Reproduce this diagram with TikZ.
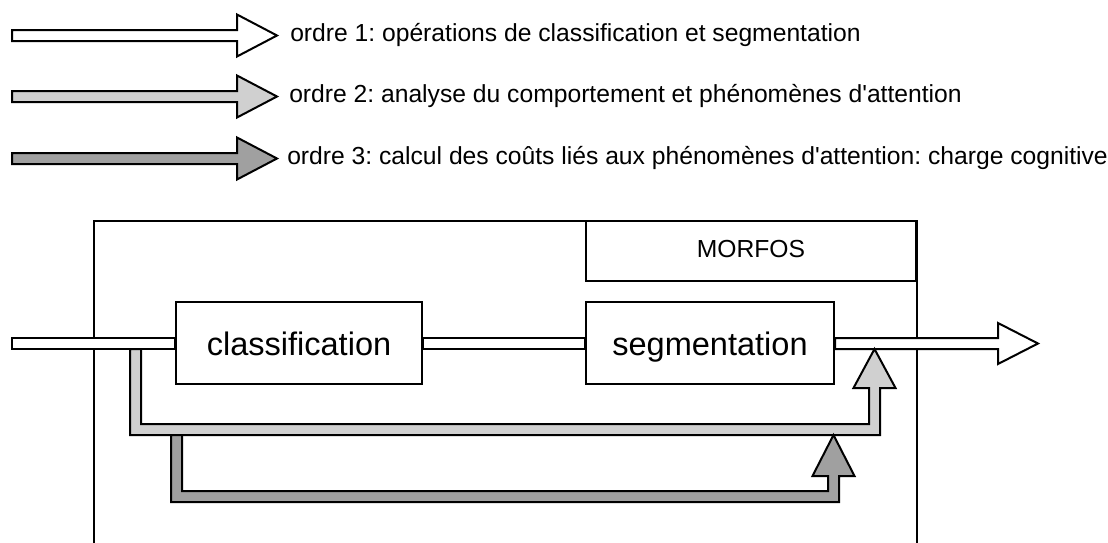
\documentclass[tikz,border=0pt]{standalone}
\usepackage{fontspec}
\setmainfont{Liberation Sans}
\usetikzlibrary{calc}
\definecolor{lightg}{HTML}{D0D0D0}
\definecolor{darkg}{HTML}{A0A0A0}
\begin{document}
\frenchspacing
\begin{tikzpicture}[x=0.75pt,y=-0.75pt,
  outline/.style={draw=black, line width=1.5pt, line join=miter},
  box/.style={outline, fill=white, inner sep=0pt},
  bigtext/.style={font=\fontsize{24.4}{28}\selectfont, text height=22.5pt, text depth=4.5pt},
  smalltext/.style={font=\fontsize{18.5}{22}\selectfont},
  legtext/.style={anchor=base west, inner sep=0pt, smalltext}]
\useasboundingbox (0,0) rectangle (1108,543);
\clip (0,0) rectangle (1108,543);

% legend
\draw[outline, fill=white] (12,30) -- (237,30) -- (237,14.5) -- (277,35.5) -- (237,56.5) -- (237,41) -- (12,41) -- cycle;
\node[legtext] (t1) at (290,41.5) {ordre 1: opérations de classification et segmentation};
\draw[outline, fill=lightg] (12,91) -- (237,91) -- (237,75.5) -- (277,96.5) -- (237,117.5) -- (237,102) -- (12,102) -- cycle;
\node[legtext] (t2) at (289,102.5) {ordre 2: analyse du comportement et phénomènes d\textquotesingle attention};
\draw[outline, fill=darkg] (12,153) -- (237,153) -- (237,137.5) -- (277,158.5) -- (237,179.5) -- (237,164) -- (12,164) -- cycle;
\node[legtext] (t3) at (287,164.5) {ordre 3: calcul des coûts liés aux phénomènes d\textquotesingle attention: charge cognitive};

% main frame
\node[box, minimum width=617.25pt, minimum height=300pt, anchor=north west] (main) at (93,220) {};
\node[box, smalltext, text height=16.7pt, text depth=7.25pt, minimum width=247.5pt, minimum height=45pt] (morfos) at (751,251) {MORFOS};

% processing boxes
\node[box, bigtext, minimum width=184.5pt, minimum height=61.5pt] (cls) at (299,343) {classification};
\node[box, bigtext, minimum width=186pt, minimum height=61.5pt] (seg) at (710,343) {segmentation};

% order 1 flow
\draw[outline, fill=white] (12,338) rectangle (cls.west |- 0,349);
\draw[outline, fill=white] (cls.east |- 0,338) rectangle (seg.west |- 0,349);
\draw[outline, fill=white] (seg.east |- 0,338) -- (998,338) -- (998,323) -- (1038,343.5) -- (998,364) -- (998,349) -- (seg.east |- 0,349) -- cycle;

% order 2 flow
\draw[outline, fill=lightg] (130,349) -- (130,435) -- (880,435) -- (880,388) -- (895.5,388) -- (874.5,349) -- (853.5,388) -- (869,388) -- (869,424) -- (141,424) -- (141,349) -- cycle;

% order 3 flow
\draw[outline, fill=darkg] (171,435) -- (171,502) -- (839,502) -- (839,476) -- (854.5,476) -- (833.5,435) -- (812.5,476) -- (828,476) -- (828,491) -- (182,491) -- (182,435) -- cycle;
\end{tikzpicture}
\end{document}
